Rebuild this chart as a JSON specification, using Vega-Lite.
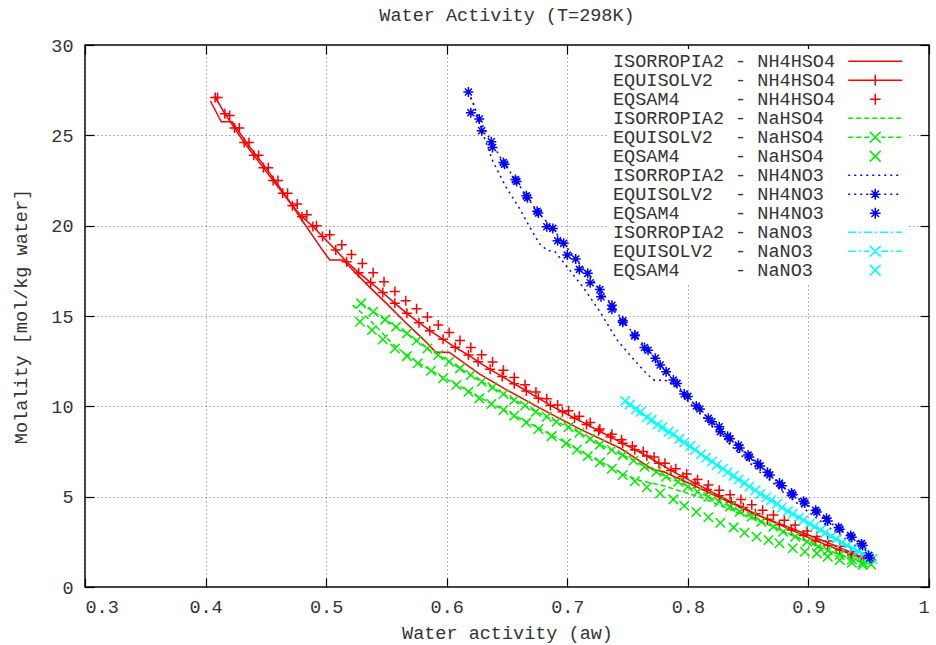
{
"$schema":"https://vega.github.io/schema/vega-lite/v6.json",
"width":844,"height":542,
"autosize":"none",
"padding":{"left":85,"top":45,"right":7,"bottom":58},
"background":"white",
"title":{"text":"Water Activity (T=298K)","font":"Liberation Mono","fontSize":18.5,"fontWeight":"normal","color":"#333","offset":12,"anchor":"middle"},
"config":{"view":{"stroke":"#000","strokeWidth":1.5},"font":"Liberation Mono",
"axis":{"labelFont":"Liberation Mono","labelFontSize":18.5,"labelColor":"#333","titleFont":"Liberation Mono","titleFontSize":18.5,"titleFontWeight":"normal","titleColor":"#333","domain":false,"tickColor":"#000","tickSize":9,"tickWidth":1.2,"gridColor":"#666","gridDash":[1,3],"gridWidth":1}},
"data":{"values":[
{"s":"ISORROPIA2\u00a0-\u00a0NH4HSO4","x":0.404,"y":26.9},{"s":"ISORROPIA2\u00a0-\u00a0NH4HSO4","x":0.413,"y":25.75},{"s":"ISORROPIA2\u00a0-\u00a0NH4HSO4","x":0.422,"y":25.75},{"s":"ISORROPIA2\u00a0-\u00a0NH4HSO4","x":0.435,"y":24.5},{"s":"ISORROPIA2\u00a0-\u00a0NH4HSO4","x":0.45,"y":23.2},{"s":"ISORROPIA2\u00a0-\u00a0NH4HSO4","x":0.465,"y":21.8},{"s":"ISORROPIA2\u00a0-\u00a0NH4HSO4","x":0.48,"y":20.3},{"s":"ISORROPIA2\u00a0-\u00a0NH4HSO4","x":0.497,"y":18.65},{"s":"ISORROPIA2\u00a0-\u00a0NH4HSO4","x":0.503,"y":18.1},{"s":"ISORROPIA2\u00a0-\u00a0NH4HSO4","x":0.514,"y":18.1},{"s":"ISORROPIA2\u00a0-\u00a0NH4HSO4","x":0.536,"y":16.6},{"s":"ISORROPIA2\u00a0-\u00a0NH4HSO4","x":0.55,"y":15.7},{"s":"ISORROPIA2\u00a0-\u00a0NH4HSO4","x":0.565,"y":14.7},{"s":"ISORROPIA2\u00a0-\u00a0NH4HSO4","x":0.58,"y":13.75},{"s":"ISORROPIA2\u00a0-\u00a0NH4HSO4","x":0.591,"y":13.0},{"s":"ISORROPIA2\u00a0-\u00a0NH4HSO4","x":0.602,"y":13.0},{"s":"ISORROPIA2\u00a0-\u00a0NH4HSO4","x":0.627,"y":11.8},{"s":"ISORROPIA2\u00a0-\u00a0NH4HSO4","x":0.65,"y":10.9},{"s":"ISORROPIA2\u00a0-\u00a0NH4HSO4","x":0.68,"y":9.8},{"s":"ISORROPIA2\u00a0-\u00a0NH4HSO4","x":0.71,"y":8.75},{"s":"ISORROPIA2\u00a0-\u00a0NH4HSO4","x":0.744,"y":7.68},{"s":"ISORROPIA2\u00a0-\u00a0NH4HSO4","x":0.771,"y":6.5},{"s":"ISORROPIA2\u00a0-\u00a0NH4HSO4","x":0.78,"y":6.38},{"s":"ISORROPIA2\u00a0-\u00a0NH4HSO4","x":0.813,"y":5.37},{"s":"ISORROPIA2\u00a0-\u00a0NH4HSO4","x":0.854,"y":4.08},{"s":"ISORROPIA2\u00a0-\u00a0NH4HSO4","x":0.893,"y":3.06},{"s":"ISORROPIA2\u00a0-\u00a0NH4HSO4","x":0.92,"y":2.35},{"s":"ISORROPIA2\u00a0-\u00a0NH4HSO4","x":0.95,"y":1.5},
{"s":"EQUISOLV2\u00a0\u00a0-\u00a0NH4HSO4","x":0.408,"y":27.1},{"s":"EQUISOLV2\u00a0\u00a0-\u00a0NH4HSO4","x":0.416,"y":26.2},{"s":"EQUISOLV2\u00a0\u00a0-\u00a0NH4HSO4","x":0.424,"y":25.4},{"s":"EQUISOLV2\u00a0\u00a0-\u00a0NH4HSO4","x":0.432,"y":24.6},{"s":"EQUISOLV2\u00a0\u00a0-\u00a0NH4HSO4","x":0.44,"y":23.9},{"s":"EQUISOLV2\u00a0\u00a0-\u00a0NH4HSO4","x":0.448,"y":23.2},{"s":"EQUISOLV2\u00a0\u00a0-\u00a0NH4HSO4","x":0.456,"y":22.5},{"s":"EQUISOLV2\u00a0\u00a0-\u00a0NH4HSO4","x":0.464,"y":21.8},{"s":"EQUISOLV2\u00a0\u00a0-\u00a0NH4HSO4","x":0.472,"y":21.1},{"s":"EQUISOLV2\u00a0\u00a0-\u00a0NH4HSO4","x":0.48,"y":20.5},{"s":"EQUISOLV2\u00a0\u00a0-\u00a0NH4HSO4","x":0.489,"y":19.95},{"s":"EQUISOLV2\u00a0\u00a0-\u00a0NH4HSO4","x":0.497,"y":19.4},{"s":"EQUISOLV2\u00a0\u00a0-\u00a0NH4HSO4","x":0.508,"y":18.65},{"s":"EQUISOLV2\u00a0\u00a0-\u00a0NH4HSO4","x":0.517,"y":18.0},{"s":"EQUISOLV2\u00a0\u00a0-\u00a0NH4HSO4","x":0.527,"y":17.4},{"s":"EQUISOLV2\u00a0\u00a0-\u00a0NH4HSO4","x":0.537,"y":16.85},{"s":"EQUISOLV2\u00a0\u00a0-\u00a0NH4HSO4","x":0.547,"y":16.3},{"s":"EQUISOLV2\u00a0\u00a0-\u00a0NH4HSO4","x":0.557,"y":15.7},{"s":"EQUISOLV2\u00a0\u00a0-\u00a0NH4HSO4","x":0.567,"y":15.15},{"s":"EQUISOLV2\u00a0\u00a0-\u00a0NH4HSO4","x":0.577,"y":14.63},{"s":"EQUISOLV2\u00a0\u00a0-\u00a0NH4HSO4","x":0.586,"y":14.19},{"s":"EQUISOLV2\u00a0\u00a0-\u00a0NH4HSO4","x":0.597,"y":13.71},{"s":"EQUISOLV2\u00a0\u00a0-\u00a0NH4HSO4","x":0.607,"y":13.27},{"s":"EQUISOLV2\u00a0\u00a0-\u00a0NH4HSO4","x":0.618,"y":12.84},{"s":"EQUISOLV2\u00a0\u00a0-\u00a0NH4HSO4","x":0.626,"y":12.47},{"s":"EQUISOLV2\u00a0\u00a0-\u00a0NH4HSO4","x":0.636,"y":12.05},{"s":"EQUISOLV2\u00a0\u00a0-\u00a0NH4HSO4","x":0.646,"y":11.65},{"s":"EQUISOLV2\u00a0\u00a0-\u00a0NH4HSO4","x":0.656,"y":11.25},{"s":"EQUISOLV2\u00a0\u00a0-\u00a0NH4HSO4","x":0.666,"y":10.85},{"s":"EQUISOLV2\u00a0\u00a0-\u00a0NH4HSO4","x":0.676,"y":10.45},{"s":"EQUISOLV2\u00a0\u00a0-\u00a0NH4HSO4","x":0.686,"y":10.05},{"s":"EQUISOLV2\u00a0\u00a0-\u00a0NH4HSO4","x":0.696,"y":9.7},{"s":"EQUISOLV2\u00a0\u00a0-\u00a0NH4HSO4","x":0.706,"y":9.35},{"s":"EQUISOLV2\u00a0\u00a0-\u00a0NH4HSO4","x":0.716,"y":9.0},{"s":"EQUISOLV2\u00a0\u00a0-\u00a0NH4HSO4","x":0.726,"y":8.65},{"s":"EQUISOLV2\u00a0\u00a0-\u00a0NH4HSO4","x":0.736,"y":8.3},{"s":"EQUISOLV2\u00a0\u00a0-\u00a0NH4HSO4","x":0.746,"y":7.95},{"s":"EQUISOLV2\u00a0\u00a0-\u00a0NH4HSO4","x":0.756,"y":7.6},{"s":"EQUISOLV2\u00a0\u00a0-\u00a0NH4HSO4","x":0.766,"y":7.25},{"s":"EQUISOLV2\u00a0\u00a0-\u00a0NH4HSO4","x":0.776,"y":6.85},{"s":"EQUISOLV2\u00a0\u00a0-\u00a0NH4HSO4","x":0.786,"y":6.45},{"s":"EQUISOLV2\u00a0\u00a0-\u00a0NH4HSO4","x":0.796,"y":6.1},{"s":"EQUISOLV2\u00a0\u00a0-\u00a0NH4HSO4","x":0.806,"y":5.75},{"s":"EQUISOLV2\u00a0\u00a0-\u00a0NH4HSO4","x":0.816,"y":5.4},{"s":"EQUISOLV2\u00a0\u00a0-\u00a0NH4HSO4","x":0.826,"y":5.05},{"s":"EQUISOLV2\u00a0\u00a0-\u00a0NH4HSO4","x":0.836,"y":4.7},{"s":"EQUISOLV2\u00a0\u00a0-\u00a0NH4HSO4","x":0.846,"y":4.4},{"s":"EQUISOLV2\u00a0\u00a0-\u00a0NH4HSO4","x":0.856,"y":4.05},{"s":"EQUISOLV2\u00a0\u00a0-\u00a0NH4HSO4","x":0.866,"y":3.75},{"s":"EQUISOLV2\u00a0\u00a0-\u00a0NH4HSO4","x":0.876,"y":3.45},{"s":"EQUISOLV2\u00a0\u00a0-\u00a0NH4HSO4","x":0.886,"y":3.15},{"s":"EQUISOLV2\u00a0\u00a0-\u00a0NH4HSO4","x":0.896,"y":2.85},{"s":"EQUISOLV2\u00a0\u00a0-\u00a0NH4HSO4","x":0.906,"y":2.55},{"s":"EQUISOLV2\u00a0\u00a0-\u00a0NH4HSO4","x":0.916,"y":2.3},{"s":"EQUISOLV2\u00a0\u00a0-\u00a0NH4HSO4","x":0.926,"y":2.05},{"s":"EQUISOLV2\u00a0\u00a0-\u00a0NH4HSO4","x":0.936,"y":1.8},{"s":"EQUISOLV2\u00a0\u00a0-\u00a0NH4HSO4","x":0.946,"y":1.6},{"s":"EQUISOLV2\u00a0\u00a0-\u00a0NH4HSO4","x":0.952,"y":1.5},
{"s":"EQSAM4\u00a0\u00a0\u00a0\u00a0\u00a0-\u00a0NH4HSO4","x":0.41,"y":27.1},{"s":"EQSAM4\u00a0\u00a0\u00a0\u00a0\u00a0-\u00a0NH4HSO4","x":0.42,"y":26.1},{"s":"EQSAM4\u00a0\u00a0\u00a0\u00a0\u00a0-\u00a0NH4HSO4","x":0.428,"y":25.4},{"s":"EQSAM4\u00a0\u00a0\u00a0\u00a0\u00a0-\u00a0NH4HSO4","x":0.436,"y":24.6},{"s":"EQSAM4\u00a0\u00a0\u00a0\u00a0\u00a0-\u00a0NH4HSO4","x":0.444,"y":23.9},{"s":"EQSAM4\u00a0\u00a0\u00a0\u00a0\u00a0-\u00a0NH4HSO4","x":0.452,"y":23.2},{"s":"EQSAM4\u00a0\u00a0\u00a0\u00a0\u00a0-\u00a0NH4HSO4","x":0.46,"y":22.5},{"s":"EQSAM4\u00a0\u00a0\u00a0\u00a0\u00a0-\u00a0NH4HSO4","x":0.468,"y":21.8},{"s":"EQSAM4\u00a0\u00a0\u00a0\u00a0\u00a0-\u00a0NH4HSO4","x":0.476,"y":21.2},{"s":"EQSAM4\u00a0\u00a0\u00a0\u00a0\u00a0-\u00a0NH4HSO4","x":0.484,"y":20.6},{"s":"EQSAM4\u00a0\u00a0\u00a0\u00a0\u00a0-\u00a0NH4HSO4","x":0.492,"y":20.0},{"s":"EQSAM4\u00a0\u00a0\u00a0\u00a0\u00a0-\u00a0NH4HSO4","x":0.503,"y":19.5},{"s":"EQSAM4\u00a0\u00a0\u00a0\u00a0\u00a0-\u00a0NH4HSO4","x":0.513,"y":18.95},{"s":"EQSAM4\u00a0\u00a0\u00a0\u00a0\u00a0-\u00a0NH4HSO4","x":0.521,"y":18.4},{"s":"EQSAM4\u00a0\u00a0\u00a0\u00a0\u00a0-\u00a0NH4HSO4","x":0.53,"y":17.9},{"s":"EQSAM4\u00a0\u00a0\u00a0\u00a0\u00a0-\u00a0NH4HSO4","x":0.539,"y":17.4},{"s":"EQSAM4\u00a0\u00a0\u00a0\u00a0\u00a0-\u00a0NH4HSO4","x":0.548,"y":16.9},{"s":"EQSAM4\u00a0\u00a0\u00a0\u00a0\u00a0-\u00a0NH4HSO4","x":0.557,"y":16.35},{"s":"EQSAM4\u00a0\u00a0\u00a0\u00a0\u00a0-\u00a0NH4HSO4","x":0.566,"y":15.85},{"s":"EQSAM4\u00a0\u00a0\u00a0\u00a0\u00a0-\u00a0NH4HSO4","x":0.575,"y":15.4},{"s":"EQSAM4\u00a0\u00a0\u00a0\u00a0\u00a0-\u00a0NH4HSO4","x":0.584,"y":14.95},{"s":"EQSAM4\u00a0\u00a0\u00a0\u00a0\u00a0-\u00a0NH4HSO4","x":0.593,"y":14.5},{"s":"EQSAM4\u00a0\u00a0\u00a0\u00a0\u00a0-\u00a0NH4HSO4","x":0.602,"y":14.08},{"s":"EQSAM4\u00a0\u00a0\u00a0\u00a0\u00a0-\u00a0NH4HSO4","x":0.611,"y":13.65},{"s":"EQSAM4\u00a0\u00a0\u00a0\u00a0\u00a0-\u00a0NH4HSO4","x":0.62,"y":13.25},{"s":"EQSAM4\u00a0\u00a0\u00a0\u00a0\u00a0-\u00a0NH4HSO4","x":0.629,"y":12.85},{"s":"EQSAM4\u00a0\u00a0\u00a0\u00a0\u00a0-\u00a0NH4HSO4","x":0.638,"y":12.45},{"s":"EQSAM4\u00a0\u00a0\u00a0\u00a0\u00a0-\u00a0NH4HSO4","x":0.647,"y":12.0},{"s":"EQSAM4\u00a0\u00a0\u00a0\u00a0\u00a0-\u00a0NH4HSO4","x":0.656,"y":11.6},{"s":"EQSAM4\u00a0\u00a0\u00a0\u00a0\u00a0-\u00a0NH4HSO4","x":0.665,"y":11.2},{"s":"EQSAM4\u00a0\u00a0\u00a0\u00a0\u00a0-\u00a0NH4HSO4","x":0.674,"y":10.8},{"s":"EQSAM4\u00a0\u00a0\u00a0\u00a0\u00a0-\u00a0NH4HSO4","x":0.683,"y":10.42},{"s":"EQSAM4\u00a0\u00a0\u00a0\u00a0\u00a0-\u00a0NH4HSO4","x":0.692,"y":10.07},{"s":"EQSAM4\u00a0\u00a0\u00a0\u00a0\u00a0-\u00a0NH4HSO4","x":0.701,"y":9.75},{"s":"EQSAM4\u00a0\u00a0\u00a0\u00a0\u00a0-\u00a0NH4HSO4","x":0.71,"y":9.45},{"s":"EQSAM4\u00a0\u00a0\u00a0\u00a0\u00a0-\u00a0NH4HSO4","x":0.719,"y":9.1},{"s":"EQSAM4\u00a0\u00a0\u00a0\u00a0\u00a0-\u00a0NH4HSO4","x":0.727,"y":8.75},{"s":"EQSAM4\u00a0\u00a0\u00a0\u00a0\u00a0-\u00a0NH4HSO4","x":0.737,"y":8.45},{"s":"EQSAM4\u00a0\u00a0\u00a0\u00a0\u00a0-\u00a0NH4HSO4","x":0.745,"y":8.15},{"s":"EQSAM4\u00a0\u00a0\u00a0\u00a0\u00a0-\u00a0NH4HSO4","x":0.754,"y":7.8},{"s":"EQSAM4\u00a0\u00a0\u00a0\u00a0\u00a0-\u00a0NH4HSO4","x":0.763,"y":7.5},{"s":"EQSAM4\u00a0\u00a0\u00a0\u00a0\u00a0-\u00a0NH4HSO4","x":0.772,"y":7.2},{"s":"EQSAM4\u00a0\u00a0\u00a0\u00a0\u00a0-\u00a0NH4HSO4","x":0.781,"y":6.85},{"s":"EQSAM4\u00a0\u00a0\u00a0\u00a0\u00a0-\u00a0NH4HSO4","x":0.79,"y":6.55},{"s":"EQSAM4\u00a0\u00a0\u00a0\u00a0\u00a0-\u00a0NH4HSO4","x":0.799,"y":6.25},{"s":"EQSAM4\u00a0\u00a0\u00a0\u00a0\u00a0-\u00a0NH4HSO4","x":0.808,"y":5.95},{"s":"EQSAM4\u00a0\u00a0\u00a0\u00a0\u00a0-\u00a0NH4HSO4","x":0.817,"y":5.65},{"s":"EQSAM4\u00a0\u00a0\u00a0\u00a0\u00a0-\u00a0NH4HSO4","x":0.826,"y":5.35},{"s":"EQSAM4\u00a0\u00a0\u00a0\u00a0\u00a0-\u00a0NH4HSO4","x":0.835,"y":5.1},{"s":"EQSAM4\u00a0\u00a0\u00a0\u00a0\u00a0-\u00a0NH4HSO4","x":0.844,"y":4.85},{"s":"EQSAM4\u00a0\u00a0\u00a0\u00a0\u00a0-\u00a0NH4HSO4","x":0.853,"y":4.55},{"s":"EQSAM4\u00a0\u00a0\u00a0\u00a0\u00a0-\u00a0NH4HSO4","x":0.862,"y":4.25},{"s":"EQSAM4\u00a0\u00a0\u00a0\u00a0\u00a0-\u00a0NH4HSO4","x":0.871,"y":3.98},{"s":"EQSAM4\u00a0\u00a0\u00a0\u00a0\u00a0-\u00a0NH4HSO4","x":0.88,"y":3.7},{"s":"EQSAM4\u00a0\u00a0\u00a0\u00a0\u00a0-\u00a0NH4HSO4","x":0.889,"y":3.43},{"s":"EQSAM4\u00a0\u00a0\u00a0\u00a0\u00a0-\u00a0NH4HSO4","x":0.899,"y":3.1},{"s":"EQSAM4\u00a0\u00a0\u00a0\u00a0\u00a0-\u00a0NH4HSO4","x":0.907,"y":2.8},{"s":"EQSAM4\u00a0\u00a0\u00a0\u00a0\u00a0-\u00a0NH4HSO4","x":0.916,"y":2.55},{"s":"EQSAM4\u00a0\u00a0\u00a0\u00a0\u00a0-\u00a0NH4HSO4","x":0.926,"y":2.25},{"s":"EQSAM4\u00a0\u00a0\u00a0\u00a0\u00a0-\u00a0NH4HSO4","x":0.935,"y":1.95},{"s":"EQSAM4\u00a0\u00a0\u00a0\u00a0\u00a0-\u00a0NH4HSO4","x":0.944,"y":1.68},{"s":"EQSAM4\u00a0\u00a0\u00a0\u00a0\u00a0-\u00a0NH4HSO4","x":0.952,"y":1.5},
{"s":"ISORROPIA2\u00a0-\u00a0NaHSO4","x":0.522,"y":15.6},{"s":"ISORROPIA2\u00a0-\u00a0NaHSO4","x":0.535,"y":14.85},{"s":"ISORROPIA2\u00a0-\u00a0NaHSO4","x":0.546,"y":14.1},{"s":"ISORROPIA2\u00a0-\u00a0NaHSO4","x":0.555,"y":13.45},{"s":"ISORROPIA2\u00a0-\u00a0NaHSO4","x":0.567,"y":12.85},{"s":"ISORROPIA2\u00a0-\u00a0NaHSO4","x":0.578,"y":12.35},{"s":"ISORROPIA2\u00a0-\u00a0NaHSO4","x":0.597,"y":11.6},{"s":"ISORROPIA2\u00a0-\u00a0NaHSO4","x":0.618,"y":10.85},{"s":"ISORROPIA2\u00a0-\u00a0NaHSO4","x":0.637,"y":10.15},{"s":"ISORROPIA2\u00a0-\u00a0NaHSO4","x":0.656,"y":9.5},{"s":"ISORROPIA2\u00a0-\u00a0NaHSO4","x":0.676,"y":8.8},{"s":"ISORROPIA2\u00a0-\u00a0NaHSO4","x":0.699,"y":7.98},{"s":"ISORROPIA2\u00a0-\u00a0NaHSO4","x":0.717,"y":7.3},{"s":"ISORROPIA2\u00a0-\u00a0NaHSO4","x":0.737,"y":6.6},{"s":"ISORROPIA2\u00a0-\u00a0NaHSO4","x":0.746,"y":6.25},{"s":"ISORROPIA2\u00a0-\u00a0NaHSO4","x":0.76,"y":5.9},{"s":"ISORROPIA2\u00a0-\u00a0NaHSO4","x":0.779,"y":5.62},{"s":"ISORROPIA2\u00a0-\u00a0NaHSO4","x":0.812,"y":4.93},{"s":"ISORROPIA2\u00a0-\u00a0NaHSO4","x":0.849,"y":3.9},{"s":"ISORROPIA2\u00a0-\u00a0NaHSO4","x":0.868,"y":3.43},{"s":"ISORROPIA2\u00a0-\u00a0NaHSO4","x":0.88,"y":3.06},{"s":"ISORROPIA2\u00a0-\u00a0NaHSO4","x":0.9,"y":2.5},{"s":"ISORROPIA2\u00a0-\u00a0NaHSO4","x":0.92,"y":1.95},{"s":"ISORROPIA2\u00a0-\u00a0NaHSO4","x":0.94,"y":1.5},{"s":"ISORROPIA2\u00a0-\u00a0NaHSO4","x":0.952,"y":1.3},
{"s":"EQUISOLV2\u00a0\u00a0-\u00a0NaHSO4","x":0.529,"y":15.7},{"s":"EQUISOLV2\u00a0\u00a0-\u00a0NaHSO4","x":0.539,"y":15.24},{"s":"EQUISOLV2\u00a0\u00a0-\u00a0NaHSO4","x":0.549,"y":14.8},{"s":"EQUISOLV2\u00a0\u00a0-\u00a0NaHSO4","x":0.558,"y":14.4},{"s":"EQUISOLV2\u00a0\u00a0-\u00a0NaHSO4","x":0.567,"y":14.04},{"s":"EQUISOLV2\u00a0\u00a0-\u00a0NaHSO4","x":0.575,"y":13.63},{"s":"EQUISOLV2\u00a0\u00a0-\u00a0NaHSO4","x":0.584,"y":13.2},{"s":"EQUISOLV2\u00a0\u00a0-\u00a0NaHSO4","x":0.593,"y":12.84},{"s":"EQUISOLV2\u00a0\u00a0-\u00a0NaHSO4","x":0.602,"y":12.47},{"s":"EQUISOLV2\u00a0\u00a0-\u00a0NaHSO4","x":0.611,"y":12.1},{"s":"EQUISOLV2\u00a0\u00a0-\u00a0NaHSO4","x":0.62,"y":11.73},{"s":"EQUISOLV2\u00a0\u00a0-\u00a0NaHSO4","x":0.629,"y":11.36},{"s":"EQUISOLV2\u00a0\u00a0-\u00a0NaHSO4","x":0.638,"y":11.05},{"s":"EQUISOLV2\u00a0\u00a0-\u00a0NaHSO4","x":0.647,"y":10.68},{"s":"EQUISOLV2\u00a0\u00a0-\u00a0NaHSO4","x":0.656,"y":10.35},{"s":"EQUISOLV2\u00a0\u00a0-\u00a0NaHSO4","x":0.665,"y":10.05},{"s":"EQUISOLV2\u00a0\u00a0-\u00a0NaHSO4","x":0.674,"y":9.7},{"s":"EQUISOLV2\u00a0\u00a0-\u00a0NaHSO4","x":0.683,"y":9.42},{"s":"EQUISOLV2\u00a0\u00a0-\u00a0NaHSO4","x":0.691,"y":9.15},{"s":"EQUISOLV2\u00a0\u00a0-\u00a0NaHSO4","x":0.701,"y":8.85},{"s":"EQUISOLV2\u00a0\u00a0-\u00a0NaHSO4","x":0.71,"y":8.54},{"s":"EQUISOLV2\u00a0\u00a0-\u00a0NaHSO4","x":0.719,"y":8.2},{"s":"EQUISOLV2\u00a0\u00a0-\u00a0NaHSO4","x":0.727,"y":7.88},{"s":"EQUISOLV2\u00a0\u00a0-\u00a0NaHSO4","x":0.737,"y":7.58},{"s":"EQUISOLV2\u00a0\u00a0-\u00a0NaHSO4","x":0.746,"y":7.3},{"s":"EQUISOLV2\u00a0\u00a0-\u00a0NaHSO4","x":0.755,"y":7.0},{"s":"EQUISOLV2\u00a0\u00a0-\u00a0NaHSO4","x":0.764,"y":6.66},{"s":"EQUISOLV2\u00a0\u00a0-\u00a0NaHSO4","x":0.774,"y":6.38},{"s":"EQUISOLV2\u00a0\u00a0-\u00a0NaHSO4","x":0.782,"y":6.1},{"s":"EQUISOLV2\u00a0\u00a0-\u00a0NaHSO4","x":0.792,"y":5.83},{"s":"EQUISOLV2\u00a0\u00a0-\u00a0NaHSO4","x":0.8,"y":5.55},{"s":"EQUISOLV2\u00a0\u00a0-\u00a0NaHSO4","x":0.808,"y":5.27},{"s":"EQUISOLV2\u00a0\u00a0-\u00a0NaHSO4","x":0.817,"y":5.0},{"s":"EQUISOLV2\u00a0\u00a0-\u00a0NaHSO4","x":0.826,"y":4.72},{"s":"EQUISOLV2\u00a0\u00a0-\u00a0NaHSO4","x":0.835,"y":4.45},{"s":"EQUISOLV2\u00a0\u00a0-\u00a0NaHSO4","x":0.843,"y":4.17},{"s":"EQUISOLV2\u00a0\u00a0-\u00a0NaHSO4","x":0.853,"y":3.9},{"s":"EQUISOLV2\u00a0\u00a0-\u00a0NaHSO4","x":0.861,"y":3.61},{"s":"EQUISOLV2\u00a0\u00a0-\u00a0NaHSO4","x":0.871,"y":3.34},{"s":"EQUISOLV2\u00a0\u00a0-\u00a0NaHSO4","x":0.879,"y":3.06},{"s":"EQUISOLV2\u00a0\u00a0-\u00a0NaHSO4","x":0.889,"y":2.78},{"s":"EQUISOLV2\u00a0\u00a0-\u00a0NaHSO4","x":0.899,"y":2.51},{"s":"EQUISOLV2\u00a0\u00a0-\u00a0NaHSO4","x":0.908,"y":2.23},{"s":"EQUISOLV2\u00a0\u00a0-\u00a0NaHSO4","x":0.916,"y":2.02},{"s":"EQUISOLV2\u00a0\u00a0-\u00a0NaHSO4","x":0.926,"y":1.77},{"s":"EQUISOLV2\u00a0\u00a0-\u00a0NaHSO4","x":0.936,"y":1.52},{"s":"EQUISOLV2\u00a0\u00a0-\u00a0NaHSO4","x":0.945,"y":1.35},{"s":"EQUISOLV2\u00a0\u00a0-\u00a0NaHSO4","x":0.952,"y":1.25},
{"s":"EQSAM4\u00a0\u00a0\u00a0\u00a0\u00a0-\u00a0NaHSO4","x":0.528,"y":14.68},{"s":"EQSAM4\u00a0\u00a0\u00a0\u00a0\u00a0-\u00a0NaHSO4","x":0.538,"y":14.22},{"s":"EQSAM4\u00a0\u00a0\u00a0\u00a0\u00a0-\u00a0NaHSO4","x":0.547,"y":13.7},{"s":"EQSAM4\u00a0\u00a0\u00a0\u00a0\u00a0-\u00a0NaHSO4","x":0.557,"y":13.2},{"s":"EQSAM4\u00a0\u00a0\u00a0\u00a0\u00a0-\u00a0NaHSO4","x":0.567,"y":12.78},{"s":"EQSAM4\u00a0\u00a0\u00a0\u00a0\u00a0-\u00a0NaHSO4","x":0.576,"y":12.38},{"s":"EQSAM4\u00a0\u00a0\u00a0\u00a0\u00a0-\u00a0NaHSO4","x":0.587,"y":11.97},{"s":"EQSAM4\u00a0\u00a0\u00a0\u00a0\u00a0-\u00a0NaHSO4","x":0.597,"y":11.55},{"s":"EQSAM4\u00a0\u00a0\u00a0\u00a0\u00a0-\u00a0NaHSO4","x":0.608,"y":11.18},{"s":"EQSAM4\u00a0\u00a0\u00a0\u00a0\u00a0-\u00a0NaHSO4","x":0.618,"y":10.81},{"s":"EQSAM4\u00a0\u00a0\u00a0\u00a0\u00a0-\u00a0NaHSO4","x":0.627,"y":10.44},{"s":"EQSAM4\u00a0\u00a0\u00a0\u00a0\u00a0-\u00a0NaHSO4","x":0.637,"y":10.13},{"s":"EQSAM4\u00a0\u00a0\u00a0\u00a0\u00a0-\u00a0NaHSO4","x":0.647,"y":9.8},{"s":"EQSAM4\u00a0\u00a0\u00a0\u00a0\u00a0-\u00a0NaHSO4","x":0.656,"y":9.48},{"s":"EQSAM4\u00a0\u00a0\u00a0\u00a0\u00a0-\u00a0NaHSO4","x":0.666,"y":9.1},{"s":"EQSAM4\u00a0\u00a0\u00a0\u00a0\u00a0-\u00a0NaHSO4","x":0.676,"y":8.75},{"s":"EQSAM4\u00a0\u00a0\u00a0\u00a0\u00a0-\u00a0NaHSO4","x":0.687,"y":8.35},{"s":"EQSAM4\u00a0\u00a0\u00a0\u00a0\u00a0-\u00a0NaHSO4","x":0.699,"y":7.95},{"s":"EQSAM4\u00a0\u00a0\u00a0\u00a0\u00a0-\u00a0NaHSO4","x":0.708,"y":7.6},{"s":"EQSAM4\u00a0\u00a0\u00a0\u00a0\u00a0-\u00a0NaHSO4","x":0.717,"y":7.25},{"s":"EQSAM4\u00a0\u00a0\u00a0\u00a0\u00a0-\u00a0NaHSO4","x":0.727,"y":6.9},{"s":"EQSAM4\u00a0\u00a0\u00a0\u00a0\u00a0-\u00a0NaHSO4","x":0.737,"y":6.55},{"s":"EQSAM4\u00a0\u00a0\u00a0\u00a0\u00a0-\u00a0NaHSO4","x":0.746,"y":6.2},{"s":"EQSAM4\u00a0\u00a0\u00a0\u00a0\u00a0-\u00a0NaHSO4","x":0.756,"y":5.85},{"s":"EQSAM4\u00a0\u00a0\u00a0\u00a0\u00a0-\u00a0NaHSO4","x":0.766,"y":5.52},{"s":"EQSAM4\u00a0\u00a0\u00a0\u00a0\u00a0-\u00a0NaHSO4","x":0.777,"y":5.19},{"s":"EQSAM4\u00a0\u00a0\u00a0\u00a0\u00a0-\u00a0NaHSO4","x":0.788,"y":4.85},{"s":"EQSAM4\u00a0\u00a0\u00a0\u00a0\u00a0-\u00a0NaHSO4","x":0.797,"y":4.5},{"s":"EQSAM4\u00a0\u00a0\u00a0\u00a0\u00a0-\u00a0NaHSO4","x":0.807,"y":4.15},{"s":"EQSAM4\u00a0\u00a0\u00a0\u00a0\u00a0-\u00a0NaHSO4","x":0.817,"y":3.86},{"s":"EQSAM4\u00a0\u00a0\u00a0\u00a0\u00a0-\u00a0NaHSO4","x":0.827,"y":3.56},{"s":"EQSAM4\u00a0\u00a0\u00a0\u00a0\u00a0-\u00a0NaHSO4","x":0.838,"y":3.3},{"s":"EQSAM4\u00a0\u00a0\u00a0\u00a0\u00a0-\u00a0NaHSO4","x":0.847,"y":3.0},{"s":"EQSAM4\u00a0\u00a0\u00a0\u00a0\u00a0-\u00a0NaHSO4","x":0.857,"y":2.78},{"s":"EQSAM4\u00a0\u00a0\u00a0\u00a0\u00a0-\u00a0NaHSO4","x":0.867,"y":2.6},{"s":"EQSAM4\u00a0\u00a0\u00a0\u00a0\u00a0-\u00a0NaHSO4","x":0.876,"y":2.42},{"s":"EQSAM4\u00a0\u00a0\u00a0\u00a0\u00a0-\u00a0NaHSO4","x":0.887,"y":2.14},{"s":"EQSAM4\u00a0\u00a0\u00a0\u00a0\u00a0-\u00a0NaHSO4","x":0.897,"y":1.95},{"s":"EQSAM4\u00a0\u00a0\u00a0\u00a0\u00a0-\u00a0NaHSO4","x":0.907,"y":1.86},{"s":"EQSAM4\u00a0\u00a0\u00a0\u00a0\u00a0-\u00a0NaHSO4","x":0.916,"y":1.68},{"s":"EQSAM4\u00a0\u00a0\u00a0\u00a0\u00a0-\u00a0NaHSO4","x":0.926,"y":1.49},{"s":"EQSAM4\u00a0\u00a0\u00a0\u00a0\u00a0-\u00a0NaHSO4","x":0.936,"y":1.34},{"s":"EQSAM4\u00a0\u00a0\u00a0\u00a0\u00a0-\u00a0NaHSO4","x":0.945,"y":1.22},
{"s":"ISORROPIA2\u00a0-\u00a0NH4NO3","x":0.618,"y":27.4},{"s":"ISORROPIA2\u00a0-\u00a0NH4NO3","x":0.622,"y":26.8},{"s":"ISORROPIA2\u00a0-\u00a0NH4NO3","x":0.63,"y":25.1},{"s":"ISORROPIA2\u00a0-\u00a0NH4NO3","x":0.638,"y":23.6},{"s":"ISORROPIA2\u00a0-\u00a0NH4NO3","x":0.649,"y":22.15},{"s":"ISORROPIA2\u00a0-\u00a0NH4NO3","x":0.66,"y":21.0},{"s":"ISORROPIA2\u00a0-\u00a0NH4NO3","x":0.669,"y":19.9},{"s":"ISORROPIA2\u00a0-\u00a0NH4NO3","x":0.677,"y":19.0},{"s":"ISORROPIA2\u00a0-\u00a0NH4NO3","x":0.683,"y":18.65},{"s":"ISORROPIA2\u00a0-\u00a0NH4NO3","x":0.69,"y":18.55},{"s":"ISORROPIA2\u00a0-\u00a0NH4NO3","x":0.7,"y":17.7},{"s":"ISORROPIA2\u00a0-\u00a0NH4NO3","x":0.713,"y":16.6},{"s":"ISORROPIA2\u00a0-\u00a0NH4NO3","x":0.727,"y":15.25},{"s":"ISORROPIA2\u00a0-\u00a0NH4NO3","x":0.741,"y":13.7},{"s":"ISORROPIA2\u00a0-\u00a0NH4NO3","x":0.755,"y":12.6},{"s":"ISORROPIA2\u00a0-\u00a0NH4NO3","x":0.766,"y":11.8},{"s":"ISORROPIA2\u00a0-\u00a0NH4NO3","x":0.772,"y":11.45},{"s":"ISORROPIA2\u00a0-\u00a0NH4NO3","x":0.781,"y":11.45},{"s":"ISORROPIA2\u00a0-\u00a0NH4NO3","x":0.791,"y":11.05},{"s":"ISORROPIA2\u00a0-\u00a0NH4NO3","x":0.8,"y":10.3},{"s":"ISORROPIA2\u00a0-\u00a0NH4NO3","x":0.82,"y":8.9},{"s":"ISORROPIA2\u00a0-\u00a0NH4NO3","x":0.84,"y":7.55},{"s":"ISORROPIA2\u00a0-\u00a0NH4NO3","x":0.86,"y":6.35},{"s":"ISORROPIA2\u00a0-\u00a0NH4NO3","x":0.871,"y":5.74},{"s":"ISORROPIA2\u00a0-\u00a0NH4NO3","x":0.88,"y":5.2},{"s":"ISORROPIA2\u00a0-\u00a0NH4NO3","x":0.9,"y":4.15},{"s":"ISORROPIA2\u00a0-\u00a0NH4NO3","x":0.92,"y":3.15},{"s":"ISORROPIA2\u00a0-\u00a0NH4NO3","x":0.94,"y":2.25},{"s":"ISORROPIA2\u00a0-\u00a0NH4NO3","x":0.951,"y":1.6},
{"s":"EQUISOLV2\u00a0\u00a0-\u00a0NH4NO3","x":0.618,"y":27.4},{"s":"EQUISOLV2\u00a0\u00a0-\u00a0NH4NO3","x":0.627,"y":25.9},{"s":"EQUISOLV2\u00a0\u00a0-\u00a0NH4NO3","x":0.637,"y":24.64},{"s":"EQUISOLV2\u00a0\u00a0-\u00a0NH4NO3","x":0.647,"y":23.5},{"s":"EQUISOLV2\u00a0\u00a0-\u00a0NH4NO3","x":0.657,"y":22.55},{"s":"EQUISOLV2\u00a0\u00a0-\u00a0NH4NO3","x":0.666,"y":21.65},{"s":"EQUISOLV2\u00a0\u00a0-\u00a0NH4NO3","x":0.675,"y":20.8},{"s":"EQUISOLV2\u00a0\u00a0-\u00a0NH4NO3","x":0.688,"y":19.85},{"s":"EQUISOLV2\u00a0\u00a0-\u00a0NH4NO3","x":0.697,"y":19.02},{"s":"EQUISOLV2\u00a0\u00a0-\u00a0NH4NO3","x":0.707,"y":18.15},{"s":"EQUISOLV2\u00a0\u00a0-\u00a0NH4NO3","x":0.717,"y":17.36},{"s":"EQUISOLV2\u00a0\u00a0-\u00a0NH4NO3","x":0.727,"y":16.47},{"s":"EQUISOLV2\u00a0\u00a0-\u00a0NH4NO3","x":0.737,"y":15.6},{"s":"EQUISOLV2\u00a0\u00a0-\u00a0NH4NO3","x":0.746,"y":14.74},{"s":"EQUISOLV2\u00a0\u00a0-\u00a0NH4NO3","x":0.756,"y":13.95},{"s":"EQUISOLV2\u00a0\u00a0-\u00a0NH4NO3","x":0.767,"y":13.1},{"s":"EQUISOLV2\u00a0\u00a0-\u00a0NH4NO3","x":0.777,"y":12.29},{"s":"EQUISOLV2\u00a0\u00a0-\u00a0NH4NO3","x":0.788,"y":11.46},{"s":"EQUISOLV2\u00a0\u00a0-\u00a0NH4NO3","x":0.797,"y":10.68},{"s":"EQUISOLV2\u00a0\u00a0-\u00a0NH4NO3","x":0.807,"y":10.02},{"s":"EQUISOLV2\u00a0\u00a0-\u00a0NH4NO3","x":0.817,"y":9.34},{"s":"EQUISOLV2\u00a0\u00a0-\u00a0NH4NO3","x":0.827,"y":8.6},{"s":"EQUISOLV2\u00a0\u00a0-\u00a0NH4NO3","x":0.835,"y":8.2},{"s":"EQUISOLV2\u00a0\u00a0-\u00a0NH4NO3","x":0.843,"y":7.7},{"s":"EQUISOLV2\u00a0\u00a0-\u00a0NH4NO3","x":0.851,"y":7.2},{"s":"EQUISOLV2\u00a0\u00a0-\u00a0NH4NO3","x":0.86,"y":6.7},{"s":"EQUISOLV2\u00a0\u00a0-\u00a0NH4NO3","x":0.868,"y":6.2},{"s":"EQUISOLV2\u00a0\u00a0-\u00a0NH4NO3","x":0.878,"y":5.6},{"s":"EQUISOLV2\u00a0\u00a0-\u00a0NH4NO3","x":0.887,"y":5.1},{"s":"EQUISOLV2\u00a0\u00a0-\u00a0NH4NO3","x":0.897,"y":4.65},{"s":"EQUISOLV2\u00a0\u00a0-\u00a0NH4NO3","x":0.907,"y":4.15},{"s":"EQUISOLV2\u00a0\u00a0-\u00a0NH4NO3","x":0.916,"y":3.65},{"s":"EQUISOLV2\u00a0\u00a0-\u00a0NH4NO3","x":0.926,"y":3.2},{"s":"EQUISOLV2\u00a0\u00a0-\u00a0NH4NO3","x":0.936,"y":2.75},{"s":"EQUISOLV2\u00a0\u00a0-\u00a0NH4NO3","x":0.945,"y":2.3},{"s":"EQUISOLV2\u00a0\u00a0-\u00a0NH4NO3","x":0.951,"y":1.6},
{"s":"EQSAM4\u00a0\u00a0\u00a0\u00a0\u00a0-\u00a0NH4NO3","x":0.62,"y":26.25},{"s":"EQSAM4\u00a0\u00a0\u00a0\u00a0\u00a0-\u00a0NH4NO3","x":0.629,"y":25.25},{"s":"EQSAM4\u00a0\u00a0\u00a0\u00a0\u00a0-\u00a0NH4NO3","x":0.638,"y":24.33},{"s":"EQSAM4\u00a0\u00a0\u00a0\u00a0\u00a0-\u00a0NH4NO3","x":0.648,"y":23.4},{"s":"EQSAM4\u00a0\u00a0\u00a0\u00a0\u00a0-\u00a0NH4NO3","x":0.658,"y":22.45},{"s":"EQSAM4\u00a0\u00a0\u00a0\u00a0\u00a0-\u00a0NH4NO3","x":0.667,"y":21.55},{"s":"EQSAM4\u00a0\u00a0\u00a0\u00a0\u00a0-\u00a0NH4NO3","x":0.676,"y":20.7},{"s":"EQSAM4\u00a0\u00a0\u00a0\u00a0\u00a0-\u00a0NH4NO3","x":0.683,"y":19.94},{"s":"EQSAM4\u00a0\u00a0\u00a0\u00a0\u00a0-\u00a0NH4NO3","x":0.692,"y":19.16},{"s":"EQSAM4\u00a0\u00a0\u00a0\u00a0\u00a0-\u00a0NH4NO3","x":0.7,"y":18.37},{"s":"EQSAM4\u00a0\u00a0\u00a0\u00a0\u00a0-\u00a0NH4NO3","x":0.71,"y":17.58},{"s":"EQSAM4\u00a0\u00a0\u00a0\u00a0\u00a0-\u00a0NH4NO3","x":0.719,"y":16.84},{"s":"EQSAM4\u00a0\u00a0\u00a0\u00a0\u00a0-\u00a0NH4NO3","x":0.728,"y":16.07},{"s":"EQSAM4\u00a0\u00a0\u00a0\u00a0\u00a0-\u00a0NH4NO3","x":0.737,"y":15.37},{"s":"EQSAM4\u00a0\u00a0\u00a0\u00a0\u00a0-\u00a0NH4NO3","x":0.746,"y":14.65},{"s":"EQSAM4\u00a0\u00a0\u00a0\u00a0\u00a0-\u00a0NH4NO3","x":0.756,"y":13.9},{"s":"EQSAM4\u00a0\u00a0\u00a0\u00a0\u00a0-\u00a0NH4NO3","x":0.764,"y":13.26},{"s":"EQSAM4\u00a0\u00a0\u00a0\u00a0\u00a0-\u00a0NH4NO3","x":0.773,"y":12.66},{"s":"EQSAM4\u00a0\u00a0\u00a0\u00a0\u00a0-\u00a0NH4NO3","x":0.782,"y":11.92},{"s":"EQSAM4\u00a0\u00a0\u00a0\u00a0\u00a0-\u00a0NH4NO3","x":0.791,"y":11.27},{"s":"EQSAM4\u00a0\u00a0\u00a0\u00a0\u00a0-\u00a0NH4NO3","x":0.8,"y":10.55},{"s":"EQSAM4\u00a0\u00a0\u00a0\u00a0\u00a0-\u00a0NH4NO3","x":0.81,"y":9.85},{"s":"EQSAM4\u00a0\u00a0\u00a0\u00a0\u00a0-\u00a0NH4NO3","x":0.82,"y":9.15},{"s":"EQSAM4\u00a0\u00a0\u00a0\u00a0\u00a0-\u00a0NH4NO3","x":0.826,"y":8.87},{"s":"EQSAM4\u00a0\u00a0\u00a0\u00a0\u00a0-\u00a0NH4NO3","x":0.833,"y":8.35},{"s":"EQSAM4\u00a0\u00a0\u00a0\u00a0\u00a0-\u00a0NH4NO3","x":0.842,"y":7.85},{"s":"EQSAM4\u00a0\u00a0\u00a0\u00a0\u00a0-\u00a0NH4NO3","x":0.85,"y":7.3},{"s":"EQSAM4\u00a0\u00a0\u00a0\u00a0\u00a0-\u00a0NH4NO3","x":0.858,"y":6.85},{"s":"EQSAM4\u00a0\u00a0\u00a0\u00a0\u00a0-\u00a0NH4NO3","x":0.866,"y":6.35},{"s":"EQSAM4\u00a0\u00a0\u00a0\u00a0\u00a0-\u00a0NH4NO3","x":0.876,"y":5.75},{"s":"EQSAM4\u00a0\u00a0\u00a0\u00a0\u00a0-\u00a0NH4NO3","x":0.886,"y":5.2},{"s":"EQSAM4\u00a0\u00a0\u00a0\u00a0\u00a0-\u00a0NH4NO3","x":0.896,"y":4.75},{"s":"EQSAM4\u00a0\u00a0\u00a0\u00a0\u00a0-\u00a0NH4NO3","x":0.906,"y":4.25},{"s":"EQSAM4\u00a0\u00a0\u00a0\u00a0\u00a0-\u00a0NH4NO3","x":0.915,"y":3.8},{"s":"EQSAM4\u00a0\u00a0\u00a0\u00a0\u00a0-\u00a0NH4NO3","x":0.925,"y":3.3},{"s":"EQSAM4\u00a0\u00a0\u00a0\u00a0\u00a0-\u00a0NH4NO3","x":0.935,"y":2.85},{"s":"EQSAM4\u00a0\u00a0\u00a0\u00a0\u00a0-\u00a0NH4NO3","x":0.944,"y":2.4},{"s":"EQSAM4\u00a0\u00a0\u00a0\u00a0\u00a0-\u00a0NH4NO3","x":0.95,"y":1.75},
{"s":"ISORROPIA2\u00a0-\u00a0NaNO3","x":0.747,"y":10.3},{"s":"ISORROPIA2\u00a0-\u00a0NaNO3","x":0.76,"y":9.6},{"s":"ISORROPIA2\u00a0-\u00a0NaNO3","x":0.78,"y":8.7},{"s":"ISORROPIA2\u00a0-\u00a0NaNO3","x":0.8,"y":7.8},{"s":"ISORROPIA2\u00a0-\u00a0NaNO3","x":0.82,"y":6.9},{"s":"ISORROPIA2\u00a0-\u00a0NaNO3","x":0.84,"y":6.0},{"s":"ISORROPIA2\u00a0-\u00a0NaNO3","x":0.86,"y":5.15},{"s":"ISORROPIA2\u00a0-\u00a0NaNO3","x":0.88,"y":4.3},{"s":"ISORROPIA2\u00a0-\u00a0NaNO3","x":0.9,"y":3.5},{"s":"ISORROPIA2\u00a0-\u00a0NaNO3","x":0.92,"y":2.7},{"s":"ISORROPIA2\u00a0-\u00a0NaNO3","x":0.94,"y":2.0},{"s":"ISORROPIA2\u00a0-\u00a0NaNO3","x":0.953,"y":1.5},
{"s":"EQUISOLV2\u00a0\u00a0-\u00a0NaNO3","x":0.748,"y":10.3},{"s":"EQUISOLV2\u00a0\u00a0-\u00a0NaNO3","x":0.757,"y":9.85},{"s":"EQUISOLV2\u00a0\u00a0-\u00a0NaNO3","x":0.766,"y":9.4},{"s":"EQUISOLV2\u00a0\u00a0-\u00a0NaNO3","x":0.775,"y":9.0},{"s":"EQUISOLV2\u00a0\u00a0-\u00a0NaNO3","x":0.784,"y":8.6},{"s":"EQUISOLV2\u00a0\u00a0-\u00a0NaNO3","x":0.793,"y":8.2},{"s":"EQUISOLV2\u00a0\u00a0-\u00a0NaNO3","x":0.802,"y":7.8},{"s":"EQUISOLV2\u00a0\u00a0-\u00a0NaNO3","x":0.811,"y":7.35},{"s":"EQUISOLV2\u00a0\u00a0-\u00a0NaNO3","x":0.82,"y":6.95},{"s":"EQUISOLV2\u00a0\u00a0-\u00a0NaNO3","x":0.829,"y":6.55},{"s":"EQUISOLV2\u00a0\u00a0-\u00a0NaNO3","x":0.838,"y":6.15},{"s":"EQUISOLV2\u00a0\u00a0-\u00a0NaNO3","x":0.847,"y":5.75},{"s":"EQUISOLV2\u00a0\u00a0-\u00a0NaNO3","x":0.856,"y":5.35},{"s":"EQUISOLV2\u00a0\u00a0-\u00a0NaNO3","x":0.865,"y":4.95},{"s":"EQUISOLV2\u00a0\u00a0-\u00a0NaNO3","x":0.874,"y":4.6},{"s":"EQUISOLV2\u00a0\u00a0-\u00a0NaNO3","x":0.883,"y":4.2},{"s":"EQUISOLV2\u00a0\u00a0-\u00a0NaNO3","x":0.892,"y":3.85},{"s":"EQUISOLV2\u00a0\u00a0-\u00a0NaNO3","x":0.901,"y":3.5},{"s":"EQUISOLV2\u00a0\u00a0-\u00a0NaNO3","x":0.91,"y":3.15},{"s":"EQUISOLV2\u00a0\u00a0-\u00a0NaNO3","x":0.919,"y":2.8},{"s":"EQUISOLV2\u00a0\u00a0-\u00a0NaNO3","x":0.928,"y":2.45},{"s":"EQUISOLV2\u00a0\u00a0-\u00a0NaNO3","x":0.937,"y":2.1},{"s":"EQUISOLV2\u00a0\u00a0-\u00a0NaNO3","x":0.946,"y":1.8},{"s":"EQUISOLV2\u00a0\u00a0-\u00a0NaNO3","x":0.953,"y":1.55},
{"s":"EQSAM4\u00a0\u00a0\u00a0\u00a0\u00a0-\u00a0NaNO3","x":0.752,"y":10.1},{"s":"EQSAM4\u00a0\u00a0\u00a0\u00a0\u00a0-\u00a0NaNO3","x":0.761,"y":9.7},{"s":"EQSAM4\u00a0\u00a0\u00a0\u00a0\u00a0-\u00a0NaNO3","x":0.77,"y":9.25},{"s":"EQSAM4\u00a0\u00a0\u00a0\u00a0\u00a0-\u00a0NaNO3","x":0.779,"y":8.85},{"s":"EQSAM4\u00a0\u00a0\u00a0\u00a0\u00a0-\u00a0NaNO3","x":0.788,"y":8.45},{"s":"EQSAM4\u00a0\u00a0\u00a0\u00a0\u00a0-\u00a0NaNO3","x":0.797,"y":8.0},{"s":"EQSAM4\u00a0\u00a0\u00a0\u00a0\u00a0-\u00a0NaNO3","x":0.806,"y":7.6},{"s":"EQSAM4\u00a0\u00a0\u00a0\u00a0\u00a0-\u00a0NaNO3","x":0.815,"y":7.15},{"s":"EQSAM4\u00a0\u00a0\u00a0\u00a0\u00a0-\u00a0NaNO3","x":0.824,"y":6.75},{"s":"EQSAM4\u00a0\u00a0\u00a0\u00a0\u00a0-\u00a0NaNO3","x":0.833,"y":6.35},{"s":"EQSAM4\u00a0\u00a0\u00a0\u00a0\u00a0-\u00a0NaNO3","x":0.842,"y":5.95},{"s":"EQSAM4\u00a0\u00a0\u00a0\u00a0\u00a0-\u00a0NaNO3","x":0.851,"y":5.55},{"s":"EQSAM4\u00a0\u00a0\u00a0\u00a0\u00a0-\u00a0NaNO3","x":0.86,"y":5.15},{"s":"EQSAM4\u00a0\u00a0\u00a0\u00a0\u00a0-\u00a0NaNO3","x":0.869,"y":4.8},{"s":"EQSAM4\u00a0\u00a0\u00a0\u00a0\u00a0-\u00a0NaNO3","x":0.878,"y":4.4},{"s":"EQSAM4\u00a0\u00a0\u00a0\u00a0\u00a0-\u00a0NaNO3","x":0.887,"y":4.05},{"s":"EQSAM4\u00a0\u00a0\u00a0\u00a0\u00a0-\u00a0NaNO3","x":0.896,"y":3.7},{"s":"EQSAM4\u00a0\u00a0\u00a0\u00a0\u00a0-\u00a0NaNO3","x":0.905,"y":3.35},{"s":"EQSAM4\u00a0\u00a0\u00a0\u00a0\u00a0-\u00a0NaNO3","x":0.914,"y":3.0},{"s":"EQSAM4\u00a0\u00a0\u00a0\u00a0\u00a0-\u00a0NaNO3","x":0.923,"y":2.65},{"s":"EQSAM4\u00a0\u00a0\u00a0\u00a0\u00a0-\u00a0NaNO3","x":0.932,"y":2.3},{"s":"EQSAM4\u00a0\u00a0\u00a0\u00a0\u00a0-\u00a0NaNO3","x":0.941,"y":2.0},{"s":"EQSAM4\u00a0\u00a0\u00a0\u00a0\u00a0-\u00a0NaNO3","x":0.95,"y":1.65}
]},
"layer":[
{"transform":[{"filter":{"field":"s","oneOf":["ISORROPIA2\u00a0-\u00a0NH4HSO4","EQUISOLV2\u00a0\u00a0-\u00a0NH4HSO4"]}}],
 "mark":{"type":"line","strokeWidth":1.5},
 "encoding":{
  "x":{"field":"x","type":"quantitative","scale":{"domain":[0.3,1],"nice":false,"zero":false},
       "axis":{"orient":"bottom","values":[0.3,0.4,0.5,0.6,0.7,0.8,0.9,1],"format":"~g","title":"Water activity (aw)","grid":false,"offset":-9,"tickSize":9,"labelPadding":10,"titlePadding":8}},
  "y":{"field":"y","type":"quantitative","scale":{"domain":[0,30],"nice":false},
       "axis":{"orient":"left","values":[0,5,10,15,20,25,30],"format":"d","title":"Molality [mol/kg water]","grid":false,"offset":-9,"tickSize":9,"labelPadding":12,"titlePadding":20}},
  "stroke":{"field":"s","type":"nominal","legend":null,
    "scale":{"domain":["EQSAM4\u00a0\u00a0\u00a0\u00a0\u00a0-\u00a0NaNO3","EQUISOLV2\u00a0\u00a0-\u00a0NaNO3","ISORROPIA2\u00a0-\u00a0NaNO3","EQSAM4\u00a0\u00a0\u00a0\u00a0\u00a0-\u00a0NH4NO3","EQUISOLV2\u00a0\u00a0-\u00a0NH4NO3","ISORROPIA2\u00a0-\u00a0NH4NO3","EQSAM4\u00a0\u00a0\u00a0\u00a0\u00a0-\u00a0NaHSO4","EQUISOLV2\u00a0\u00a0-\u00a0NaHSO4","ISORROPIA2\u00a0-\u00a0NaHSO4","EQSAM4\u00a0\u00a0\u00a0\u00a0\u00a0-\u00a0NH4HSO4","EQUISOLV2\u00a0\u00a0-\u00a0NH4HSO4","ISORROPIA2\u00a0-\u00a0NH4HSO4"],
             "range":["#00ffff","#00ffff","#00ffff","#0000ff","#0000ff","#0000ff","#00ee00","#00ee00","#00ee00","#ff0000","#ff0000","#ff0000"]}}}},
{"transform":[{"filter":{"field":"s","oneOf":["ISORROPIA2\u00a0-\u00a0NaHSO4","EQUISOLV2\u00a0\u00a0-\u00a0NaHSO4"]}}],
 "mark":{"type":"line","strokeWidth":1.5,"strokeDash":[5,3]},
 "encoding":{"x":{"field":"x","type":"quantitative","axis":{"orient":"bottom","grid":true,"ticks":false,"labels":false,"title":null,"values":[0.3,0.4,0.5,0.6,0.7,0.8,0.9,1]}},
  "y":{"field":"y","type":"quantitative","axis":{"orient":"left","grid":true,"ticks":false,"labels":false,"title":null,"values":[0,5,10,15,20,25,30]}},
  "stroke":{"field":"s","type":"nominal","legend":null}}},
{"transform":[{"filter":{"field":"s","oneOf":["ISORROPIA2\u00a0-\u00a0NH4NO3","EQUISOLV2\u00a0\u00a0-\u00a0NH4NO3"]}}],
 "mark":{"type":"line","strokeWidth":1.5,"strokeDash":[2,4]},
 "encoding":{"x":{"field":"x","type":"quantitative","axis":null},"y":{"field":"y","type":"quantitative","axis":null},"stroke":{"field":"s","type":"nominal","legend":null}}},
{"transform":[{"filter":{"field":"s","oneOf":["ISORROPIA2\u00a0-\u00a0NaNO3","EQUISOLV2\u00a0\u00a0-\u00a0NaNO3"]}}],
 "mark":{"type":"line","strokeWidth":1.5,"strokeDash":[8,3,2,3]},
 "encoding":{"x":{"field":"x","type":"quantitative","axis":null},"y":{"field":"y","type":"quantitative","axis":null},"stroke":{"field":"s","type":"nominal","legend":null}}},
{"transform":[{"filter":{"field":"s","oneOf":["EQUISOLV2\u00a0\u00a0-\u00a0NH4HSO4","EQSAM4\u00a0\u00a0\u00a0\u00a0\u00a0-\u00a0NH4HSO4"]}}],
 "mark":{"type":"point","filled":false,"opacity":1,"strokeWidth":1.5,"size":100,"shape":"M-1,0L1,0M0,-1L0,1"},
 "encoding":{"x":{"field":"x","type":"quantitative","axis":null},"y":{"field":"y","type":"quantitative","axis":null},"stroke":{"field":"s","type":"nominal","legend":null}}},
{"transform":[{"filter":{"field":"s","oneOf":["EQUISOLV2\u00a0\u00a0-\u00a0NaHSO4","EQSAM4\u00a0\u00a0\u00a0\u00a0\u00a0-\u00a0NaHSO4","EQUISOLV2\u00a0\u00a0-\u00a0NaNO3","EQSAM4\u00a0\u00a0\u00a0\u00a0\u00a0-\u00a0NaNO3"]}}],
 "mark":{"type":"point","filled":false,"opacity":1,"strokeWidth":1.5,"size":90,"shape":"M-1,-1L1,1M-1,1L1,-1"},
 "encoding":{"x":{"field":"x","type":"quantitative","axis":null},"y":{"field":"y","type":"quantitative","axis":null},"stroke":{"field":"s","type":"nominal","legend":null}}},
{"transform":[{"filter":{"field":"s","oneOf":["EQUISOLV2\u00a0\u00a0-\u00a0NH4NO3","EQSAM4\u00a0\u00a0\u00a0\u00a0\u00a0-\u00a0NH4NO3"]}}],
 "mark":{"type":"point","filled":false,"opacity":1,"strokeWidth":1.5,"size":100,"shape":"M-1,0L1,0M0,-1L0,1M-0.7,-0.7L0.7,0.7M-0.7,0.7L0.7,-0.7"},
 "encoding":{"x":{"field":"x","type":"quantitative","axis":null},"y":{"field":"y","type":"quantitative","axis":null},"stroke":{"field":"s","type":"nominal","legend":null}}},
{"mark":{"type":"point","filled":false,"opacity":0},
 "encoding":{
  "x":{"field":"x","type":"quantitative","axis":{"orient":"top","values":[0.3,0.4,0.5,0.6,0.7,0.8,0.9,1],"labels":false,"title":null,"grid":false,"offset":-9,"tickSize":9}},
  "y":{"field":"y","type":"quantitative","axis":{"orient":"right","values":[0,5,10,15,20,25,30],"labels":false,"title":null,"grid":false,"offset":-9,"tickSize":9}},
  "color":{"field":"s","type":"nominal",
    "scale":{"domain":["ISORROPIA2\u00a0-\u00a0NH4HSO4","EQUISOLV2\u00a0\u00a0-\u00a0NH4HSO4","EQSAM4\u00a0\u00a0\u00a0\u00a0\u00a0-\u00a0NH4HSO4","ISORROPIA2\u00a0-\u00a0NaHSO4","EQUISOLV2\u00a0\u00a0-\u00a0NaHSO4","EQSAM4\u00a0\u00a0\u00a0\u00a0\u00a0-\u00a0NaHSO4","ISORROPIA2\u00a0-\u00a0NH4NO3","EQUISOLV2\u00a0\u00a0-\u00a0NH4NO3","EQSAM4\u00a0\u00a0\u00a0\u00a0\u00a0-\u00a0NH4NO3","ISORROPIA2\u00a0-\u00a0NaNO3","EQUISOLV2\u00a0\u00a0-\u00a0NaNO3","EQSAM4\u00a0\u00a0\u00a0\u00a0\u00a0-\u00a0NaNO3"],
             "range":["#ff0000","#ff0000","#ff0000","#00ee00","#00ee00","#00ee00","#0000ff","#0000ff","#0000ff","#00ffff","#00ffff","#00ffff"]},
    "legend":{"orient":"none","legendX":524,"legendY":4,"title":null,"labelFont":"Liberation Mono","labelFontSize":18.5,"labelColor":"#333","labelLimit":400,"labelAlign":"left","labelOffset":-271.5,"symbolOffset":254,"symbolSize":256,"symbolStrokeWidth":1.5,"symbolOpacity":1,"fillColor":"white","padding":3,"rowPadding":0}},
  "shape":{"field":"s","type":"nominal",
    "scale":{"domain":["ISORROPIA2\u00a0-\u00a0NH4HSO4","EQUISOLV2\u00a0\u00a0-\u00a0NH4HSO4","EQSAM4\u00a0\u00a0\u00a0\u00a0\u00a0-\u00a0NH4HSO4","ISORROPIA2\u00a0-\u00a0NaHSO4","EQUISOLV2\u00a0\u00a0-\u00a0NaHSO4","EQSAM4\u00a0\u00a0\u00a0\u00a0\u00a0-\u00a0NaHSO4","ISORROPIA2\u00a0-\u00a0NH4NO3","EQUISOLV2\u00a0\u00a0-\u00a0NH4NO3","EQSAM4\u00a0\u00a0\u00a0\u00a0\u00a0-\u00a0NH4NO3","ISORROPIA2\u00a0-\u00a0NaNO3","EQUISOLV2\u00a0\u00a0-\u00a0NaNO3","EQSAM4\u00a0\u00a0\u00a0\u00a0\u00a0-\u00a0NaNO3"],
             "range":["M-3.375,0L3.375,0",
                      "M-3.375,0L3.375,0M0,-0.675L0,0.675",
                      "M-0.675,0L0.675,0M0,-0.675L0,0.675",
                      "M-3.375,0L-2.75,0M-2.375,0L-1.75,0M-1.375,0L-0.75,0M-0.375,0L0.25,0M0.625,0L1.25,0M1.625,0L2.25,0M2.625,0L3.25,0",
                      "M-3.375,0L-2.75,0M-2.375,0L-1.75,0M-1.375,0L-0.75,0M0.75,0L1.25,0M1.625,0L2.25,0M2.625,0L3.25,0M-0.675,-0.675L0.675,0.675M-0.675,0.675L0.675,-0.675",
                      "M-0.675,-0.675L0.675,0.675M-0.675,0.675L0.675,-0.675",
                      "M-3.375,0L-3.125,0M-2.625,0L-2.375,0M-1.875,0L-1.625,0M-1.125,0L-0.875,0M-0.375,0L-0.125,0M0.375,0L0.625,0M1.125,0L1.375,0M1.875,0L2.125,0M2.625,0L2.875,0",
                      "M-3.375,0L-3.125,0M-2.625,0L-2.375,0M-1.875,0L-1.625,0M-1.125,0L-0.875,0M1.125,0L1.375,0M1.875,0L2.125,0M2.625,0L2.875,0M-0.675,0L0.675,0M0,-0.675L0,0.675M-0.475,-0.475L0.475,0.475M-0.475,0.475L0.475,-0.475",
                      "M-0.675,0L0.675,0M0,-0.675L0,0.675M-0.475,-0.475L0.475,0.475M-0.475,0.475L0.475,-0.475",
                      "M-3.375,0L-2.375,0M-2,0L-1.75,0M-1.375,0L-0.375,0M0,0L0.25,0M0.625,0L1.625,0M2,0L2.25,0M2.625,0L3.375,0",
                      "M-3.375,0L-2.375,0M-2,0L-1.75,0M-1.375,0L-0.75,0M0.75,0L1.625,0M2,0L2.25,0M2.625,0L3.375,0M-0.675,-0.675L0.675,0.675M-0.675,0.675L0.675,-0.675",
                      "M-0.675,-0.675L0.675,0.675M-0.675,0.675L0.675,-0.675"]},
    "legend":{"orient":"none","legendX":524,"legendY":4,"title":null,"labelFont":"Liberation Mono","labelFontSize":18.5,"labelColor":"#333","labelLimit":400,"labelAlign":"left","labelOffset":-271.5,"symbolOffset":254,"symbolSize":256,"symbolStrokeWidth":1.5,"symbolOpacity":1,"fillColor":"white","padding":3,"rowPadding":0}}}}
],
"resolve":{"axis":{"x":"independent","y":"independent"}}
}
